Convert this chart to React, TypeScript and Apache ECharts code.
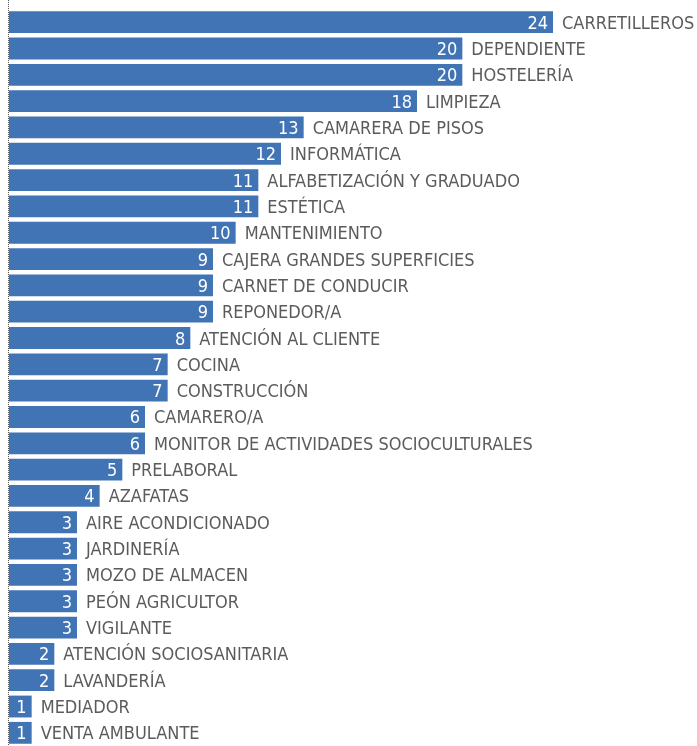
import React, { useEffect, useRef } from "react";
import * as echarts from "echarts";

const categories = [
  "CARRETILLEROS",
  "DEPENDIENTE",
  "HOSTELERÍA",
  "LIMPIEZA",
  "CAMARERA DE PISOS",
  "INFORMÁTICA",
  "ALFABETIZACIÓN Y GRADUADO",
  "ESTÉTICA",
  "MANTENIMIENTO",
  "CAJERA GRANDES SUPERFICIES",
  "CARNET DE CONDUCIR",
  "REPONEDOR/A",
  "ATENCIÓN AL CLIENTE",
  "COCINA",
  "CONSTRUCCIÓN",
  "CAMARERO/A",
  "MONITOR DE ACTIVIDADES SOCIOCULTURALES",
  "PRELABORAL",
  "AZAFATAS",
  "AIRE ACONDICIONADO",
  "JARDINERÍA",
  "MOZO DE ALMACEN",
  "PEÓN AGRICULTOR",
  "VIGILANTE",
  "ATENCIÓN SOCIOSANITARIA",
  "LAVANDERÍA",
  "MEDIADOR",
  "VENTA AMBULANTE",
];

const values = [24, 20, 20, 18, 13, 12, 11, 11, 10, 9, 9, 9, 8, 7, 7, 6, 6, 5, 4, 3, 3, 3, 3, 3, 2, 2, 1, 1];

const FONT = "'DejaVu Sans Condensed', sans-serif";

export default function App() {
  const ref = useRef<HTMLDivElement>(null);
  useEffect(() => {
    if (!ref.current) return;
    const chart = echarts.init(ref.current, undefined, { renderer: "svg" });
    chart.setOption({
      animation: false,
      grid: { left: 9, right: 144, top: 9, height: 740, containLabel: false },
      xAxis: {
        type: "value",
        min: 0,
        max: 24,
        show: false,
      },
      yAxis: {
        type: "category",
        data: categories,
        inverse: true,
        axisLine: { show: false },
        axisTick: { show: false },
        axisLabel: { show: false },
      },
      graphic: [
        {
          type: "line",
          shape: { x1: 8.5, y1: 0, x2: 8.5, y2: 746 },
          style: { stroke: "#555", lineWidth: 1, lineDash: [1, 1] },
          silent: true,
        },
      ],
      series: [
        {
          type: "bar",
          data: values,
          barCategoryGap: "17%",
          itemStyle: { color: "#4174b4" },
          label: {
            show: true,
            position: "insideRight",
            distance: 5,
            color: "#ffffff",
            fontFamily: FONT,
            fontSize: 18,
          },
        },
        {
          type: "bar",
          data: values,
          barGap: "-100%",
          barCategoryGap: "17%",
          itemStyle: { color: "rgba(0,0,0,0)" },
          label: {
            show: true,
            position: "right",
            distance: 9,
            formatter: "{b}",
            color: "#5a5b5d",
            fontFamily: FONT,
            fontSize: 18,
          },
        },
      ],
    });
    return () => chart.dispose();
  }, []);
  return (
    <div
      ref={ref}
      style={{ position: "fixed", left: 0, top: 0, width: 697, height: 746 }}
    />
  );
}
